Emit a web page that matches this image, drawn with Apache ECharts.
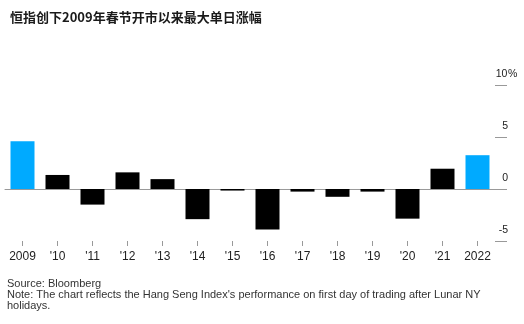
<!DOCTYPE html>
<html>
<head>
<meta charset="utf-8">
<script src="https://cdn.jsdelivr.net/npm/echarts@6/dist/echarts.min.js"></script>
<style>
  html, body { margin: 0; padding: 0; background: #ffffff; }
  #chart { width: 524px; height: 324px; }
</style>
</head>
<body>
<div id="chart"></div>
<script>
// Hang Seng Index move on the first trading day after Lunar New Year (%)
const years = ['2009', "'10", "'11", "'12", "'13", "'14", "'15", "'16", "'17", "'18", "'19", "'20", "'21", '2022'];
const changes = [4.6, 1.35, -1.5, 1.6, 0.95, -2.9, -0.15, -3.9, -0.25, -0.75, -0.25, -2.85, 1.95, 3.25];
const highlightYears = ['2009', '2022'];
const yTicks = { min: -5, max: 10, step: 5 };

const titleText = '恒指创下2009年春节开市以来最大单日涨幅';
const sourceText = 'Source: Bloomberg';
const noteText = "Note: The chart reflects the Hang Seng Index's performance on first day of trading after Lunar NY\nholidays.";

const BLUE = '#00aaff';
const BLACK = '#000000';
const latin = '"Liberation Sans", Arial, Helvetica, sans-serif';

const chart = echarts.init(document.getElementById('chart'), null, { renderer: 'canvas' });

chart.setOption({
  animation: false,
  backgroundColor: '#ffffff',
  title: {
    text: titleText,
    left: 5,
    top: 6,
    textStyle: {
      fontFamily: '"Noto Sans CJK SC", sans-serif',
      fontSize: 13,
      fontWeight: 'bold',
      color: '#1a1a1a'
    }
  },
  grid: { left: 5, right: 29, top: 85, bottom: 83, containLabel: false },
  xAxis: [{
    // bottom axis: year ticks and labels
    type: 'category',
    data: years,
    position: 'bottom',
    axisLine: { show: false, onZero: false },
    axisTick: { show: true, alignWithLabel: true, length: 5, lineStyle: { color: '#999999', width: 1 } },
    axisLabel: { interval: 0, margin: 10, fontSize: 12, fontFamily: latin, color: '#222222' },
    splitLine: { show: false }
  }, {
    // baseline at zero, drawn beneath the bars
    type: 'category',
    data: years,
    position: 'bottom',
    axisLine: { show: true, onZero: true, lineStyle: { color: '#999999', width: 1 } },
    axisTick: { show: false },
    axisLabel: { show: false },
    splitLine: { show: false }
  }],
  yAxis: {
    type: 'value',
    position: 'right',
    min: yTicks.min,
    max: yTicks.max,
    interval: yTicks.step,
    axisLine: { show: false },
    axisTick: { show: true, inside: false, length: 12, lineStyle: { color: '#999999', width: 1 } },
    splitLine: { show: false },
    axisLabel: {
      showMinLabel: true,
      showMaxLabel: true,
      margin: 0,
      align: 'left',
      verticalAlign: 'bottom',
      padding: [0, 0, 5, 0],
      formatter: function (v) {
        return v === yTicks.max ? '{n|' + v + '}{p|%}' : '{n|' + v + '}';
      },
      rich: {
        n: { width: 13, align: 'right', fontSize: 10.5, fontFamily: latin, color: '#222222', lineHeight: 12 },
        p: { fontSize: 10.5, fontFamily: latin, color: '#222222', lineHeight: 12 }
      }
    }
  },
  series: [{
    type: 'bar',
    xAxisIndex: 0,
    data: changes.map(function (v, i) {
      return {
        value: v,
        itemStyle: { color: highlightYears.indexOf(years[i]) >= 0 ? BLUE : BLACK }
      };
    }),
    barWidth: 24
  }],
  graphic: [{
    type: 'text',
    left: 7,
    top: 278,
    style: {
      text: sourceText + '\n' + noteText,
      font: '11px ' + latin,
      lineHeight: 11,
      fill: '#333333'
    }
  }]
});
</script>
</body>
</html>
